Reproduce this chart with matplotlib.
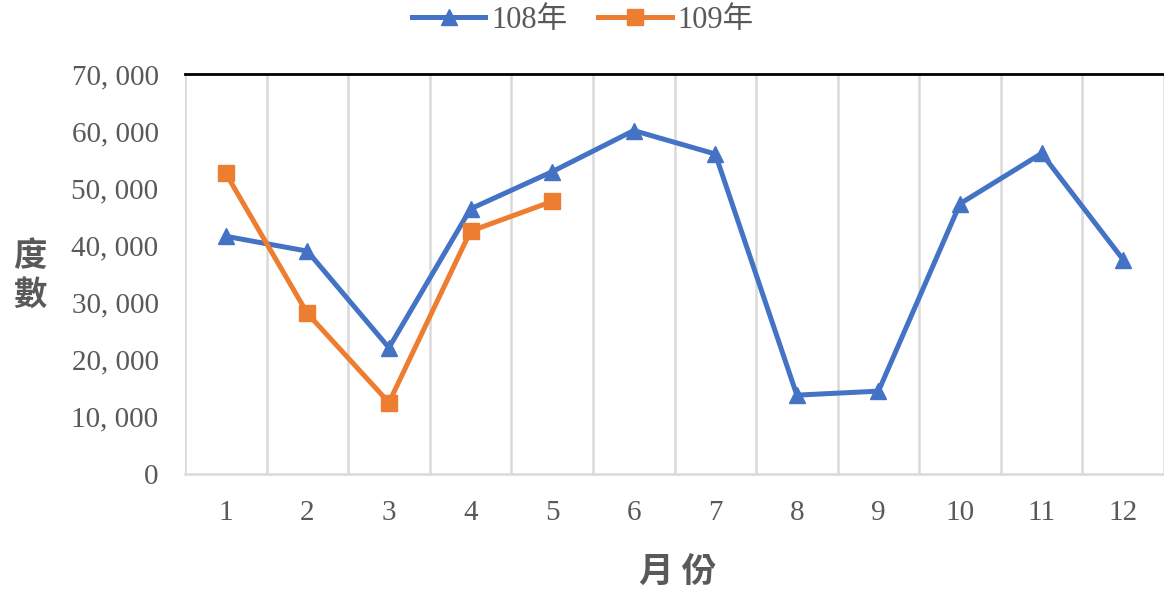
import numpy as np
import matplotlib.pyplot as plt
from matplotlib.ticker import FixedLocator, FuncFormatter

plt.rcParams['font.family'] = ['Liberation Serif', 'Noto Sans CJK TC']

# data
months = ['1', '2', '3', '4', '5', '6', '7', '8', '9', '10', '11', '12']
y108 = [41600, 39000, 22100, 46400, 52900, 60100, 56000, 13800, 14500, 47300, 56100, 37500]
y109 = [52600, 28100, 12500, 42500, 47700]
yticks = [0, 10000, 20000, 30000, 40000, 50000, 60000, 70000]

blue = '#4472C4'
orange = '#ED7D31'
grey_txt = '#595959'
grid_c = '#D9D9D9'

fig = plt.figure(figsize=(11.64, 5.97), dpi=100)
ax = fig.add_axes([185/1164, 123/597, 979/1164, 400/597])

x = np.arange(1, len(months) + 1)
ax.plot(x, y108, color=blue, lw=3.6, marker='^', ms=12, label='108年',
        solid_joinstyle='round')
ax.plot(x[:len(y109)], y109, color=orange, lw=3.6, marker='s', ms=11.5,
        label='109年', solid_joinstyle='round')

ax.set_xlim(0.5, 12.5)
ax.set_ylim(0, 70000)
ax.set_xticks(x)
ax.set_xticklabels(months)
ax.xaxis.set_minor_locator(FixedLocator(np.arange(0.5, 13, 1)))
ax.grid(which='minor', axis='x', color=grid_c, lw=1.8)
ax.set_yticks(yticks)
ax.yaxis.set_major_formatter(FuncFormatter(lambda v, p: f'{int(v):,}'.replace(',', ', ')))

ax.tick_params(axis='both', which='both', length=0, labelsize=21, labelcolor=grey_txt)
ax.tick_params(axis='y', pad=19)
ax.tick_params(axis='x', pad=19)

for s in ['left', 'right']:
    ax.spines[s].set_visible(False)
ax.spines['bottom'].set_color(grid_c)
ax.spines['bottom'].set_linewidth(1.8)
ax.spines['top'].set_color('black')
ax.spines['top'].set_linewidth(2)
ax.set_axisbelow(True)

fig.text(30/1164, 1 - 276/597, '度\n數', ha='center', va='center', fontsize=24,
         fontweight='bold', color=grey_txt, family=['Noto Sans CJK TC'], linespacing=1.2)
fig.text(678/1164, 1 - 572/597, '月 份', ha='center', va='center', fontsize=25,
         fontweight='bold', color=grey_txt, family=['Noto Sans CJK TC'])

leg = fig.legend(loc='center', bbox_to_anchor=(583/1164, 1 - 20/597), ncol=2,
                 frameon=False, fontsize=22, handlelength=2.4, columnspacing=1.0,
                 handletextpad=0.2)
for t in leg.get_texts():
    t.set_color(grey_txt)

fig.savefig('out.png', dpi=100)
